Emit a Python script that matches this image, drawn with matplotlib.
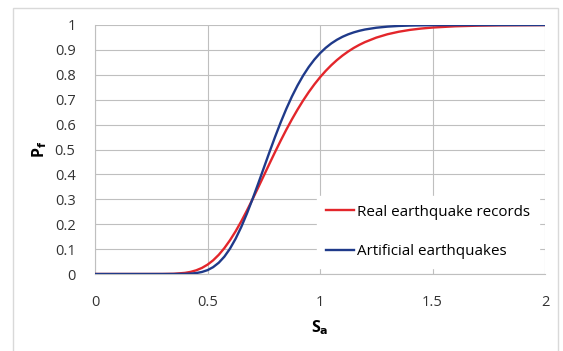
import matplotlib
matplotlib.use("Agg")
import matplotlib.pyplot as plt
from matplotlib.patches import Rectangle

# Spectral acceleration sample points
sa = [0.0, 0.1, 0.2, 0.3, 0.35, 0.4, 0.425, 0.45, 0.475, 0.5, 0.525, 0.55, 0.575,
      0.6, 0.625, 0.65, 0.675, 0.7, 0.725, 0.75, 0.775, 0.8, 0.825, 0.85, 0.875,
      0.9, 0.925, 0.95, 0.975, 1.0, 1.025, 1.05, 1.075, 1.1, 1.125, 1.15, 1.175,
      1.2, 1.25, 1.3, 1.35, 1.4, 1.45, 1.5, 1.6, 1.7, 1.8, 2.0]
# Probability of failure - real earthquake records
pf_real = [0.0, 0.0, 0.0, 0.0001, 0.0009, 0.0045, 0.0085, 0.0149, 0.0243, 0.0375,
           0.0549, 0.0771, 0.1040, 0.1357, 0.1716, 0.2114, 0.2545, 0.2998, 0.3468,
           0.3945, 0.4423, 0.4894, 0.5351, 0.5791, 0.6209, 0.6601, 0.6967, 0.7306,
           0.7616, 0.7899, 0.8154, 0.8384, 0.8590, 0.8773, 0.8935, 0.9079, 0.9204,
           0.9314, 0.9493, 0.9629, 0.9729, 0.9804, 0.9858, 0.9898, 0.9948, 0.9973,
           0.9986, 0.9997]
# Probability of failure - artificial earthquakes
pf_art = [0.0, 0.0, 0.0, 0.0, 0.00005, 0.0006, 0.0016, 0.0038, 0.0081, 0.0155,
          0.0275, 0.0452, 0.0697, 0.1019, 0.1417, 0.1888, 0.2423, 0.3006, 0.3623,
          0.4255, 0.4886, 0.5500, 0.6083, 0.6627, 0.7125, 0.7571, 0.7968, 0.8314,
          0.8612, 0.8866, 0.9080, 0.9259, 0.9406, 0.9527, 0.9625, 0.9704, 0.9768,
          0.9819, 0.9890, 0.9935, 0.9962, 0.9978, 0.9987, 0.9993, 0.9998, 0.9999,
          1.0, 1.0]
labels = ["Real earthquake records", "Artificial earthquakes"]
xticks = [0, 0.5, 1, 1.5, 2]
xticklabels = ["0", "0.5", "1", "1.5", "2"]
yticks = [0, 0.1, 0.2, 0.3, 0.4, 0.5, 0.6, 0.7, 0.8, 0.9, 1.0]
yticklabels = ["0", "0.1", "0.2", "0.3", "0.4", "0.5", "0.6", "0.7", "0.8", "0.9", "1"]

plt.rcParams['font.family'] = ['Open Sans', 'DejaVu Sans']

W, H = 563, 351
fig = plt.figure(figsize=(W / 100, H / 100), dpi=100)
fig.patch.set_facecolor("white")
fig.patches.append(Rectangle((13 / W, -0.02), (558 - 13) / W, 1 - 8 / H + 0.02,
                             transform=fig.transFigure, fill=False,
                             edgecolor="#d9d9d9", linewidth=1.0))

ax = fig.add_axes([95 / W, 1 - 274 / H, 450 / W, 249 / H])
ax.plot(sa, pf_real, color="#e3262b", linewidth=1.7, label=labels[0], zorder=3)
ax.plot(sa, pf_art, color="#1f3a8a", linewidth=1.7, label=labels[1], zorder=3)

ax.set_xlim(0, 2)
ax.set_ylim(0, 1)
ax.set_xticks(xticks)
ax.set_xticklabels(xticklabels)
ax.set_yticks(yticks)
ax.set_yticklabels(yticklabels)
ax.grid(True, color="#bfbfbf", linewidth=0.8)
ax.set_axisbelow(True)
for s in ["top", "right"]:
    ax.spines[s].set_visible(False)
for s in ["left", "bottom"]:
    ax.spines[s].set_color("#bfbfbf")
    ax.spines[s].set_linewidth(0.8)
ax.tick_params(axis="both", length=0, labelsize=10.5, colors="#333333")
ax.tick_params(axis="y", pad=14)
ax.tick_params(axis="x", pad=15)

ax.set_xlabel("S$_\\mathbf{a}$", fontsize=11.5, fontweight="bold", labelpad=6)
ax.set_ylabel("P$_\\mathbf{f}$", fontsize=11.5, fontweight="bold", labelpad=4)

leg = ax.legend(loc="lower right", bbox_to_anchor=(1.003, -0.006), frameon=True,
                fontsize=10.9, handlelength=1.85, handletextpad=0.15,
                labelspacing=1.6, borderpad=0.6, fancybox=False)
leg.get_frame().set_edgecolor("white")
leg.get_frame().set_facecolor("white")
leg.get_frame().set_alpha(1)

fig.savefig("out.png", dpi=100)
